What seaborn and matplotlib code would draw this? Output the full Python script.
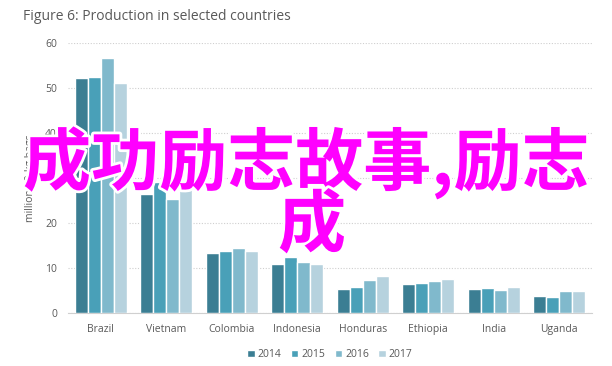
import numpy as np
import pandas as pd
import matplotlib.pyplot as plt
import matplotlib.patheffects as pe
import seaborn as sb

countries = ['Brazil', 'Vietnam', 'Colombia', 'Indonesia', 'Honduras', 'Ethiopia', 'India', 'Uganda']
years = ['2014', '2015', '2016', '2017']
prod_2014 = [52.2, 26.4, 13.3, 10.8, 5.3, 6.4, 5.3, 3.7]
prod_2015 = [52.4, 29.0, 13.8, 12.4, 5.7, 6.6, 5.6, 3.6]
prod_2016 = [56.7, 25.3, 14.5, 11.3, 7.3, 7.2, 5.1, 4.9]
prod_2017 = [51.1, 28.5, 13.8, 10.8, 8.2, 7.6, 5.8, 5.0]

colors = ['#3b7e93', '#49a0b8', '#80b9cc', '#b6d2de']
grey = '#595959'

rows = []
for yr, vals in zip(years, [prod_2014, prod_2015, prod_2016, prod_2017]):
    for c, v in zip(countries, vals):
        rows.append({'country': c, 'year': yr, 'value': v})
df = pd.DataFrame(rows)

sb.set_style('white')
plt.rcParams['font.family'] = ['Open Sans', 'DejaVu Sans']

fig = plt.figure(figsize=(6.12, 3.66), dpi=100)
ax = fig.add_axes([68 / 612, 1 - 313 / 366, 524 / 612, 270 / 366])

sb.barplot(data=df, x='country', y='value', hue='year', palette=colors,
           width=0.8, gap=0, saturation=1, ax=ax, zorder=3)

ax.set_ylim(0, 60)
ax.set_yticks(range(0, 61, 10))
ax.yaxis.grid(True, linestyle=(0, (1, 1.5)), color='#cfcfcf', linewidth=0.8, zorder=0)
ax.set_axisbelow(True)
for s in ['top', 'right', 'left']:
    ax.spines[s].set_visible(False)
ax.spines['bottom'].set_color('#d0d0d0')
ax.tick_params(axis='both', length=0, labelsize=7.5, labelcolor=grey, pad=8)
ax.set_xlabel('')
ax.set_ylabel('million 60-kg bags', fontsize=7.5, color=grey)
ax.yaxis.set_label_coords(-0.062, 0.5)

leg = ax.legend(loc='upper center', bbox_to_anchor=(0.5, -0.1), ncol=4, frameon=False,
                fontsize=7.5, handlelength=0.7, handleheight=0.7, handletextpad=0.3,
                columnspacing=0.9, labelcolor=grey)

fig.text(23 / 612, 1 - 17 / 366, 'Figure 6: Production in selected countries',
         fontsize=10, color=grey, va='center', ha='left')

# overlay text
cjk = ['Noto Sans CJK SC', 'DejaVu Sans']
fx = [pe.withStroke(linewidth=4, foreground='white')]
fig.text(306 / 612, 1 - 163 / 366, '成功励志故事,励志', family=cjk, fontsize=49,
         fontweight='bold', color='#ff00ff', ha='center', va='center', path_effects=fx)
fig.text(312 / 612, 1 - 227 / 366, '成', family=cjk, fontsize=49,
         fontweight='bold', color='#ff00ff', ha='center', va='center', path_effects=fx)

plt.savefig('out.png', dpi=100)
